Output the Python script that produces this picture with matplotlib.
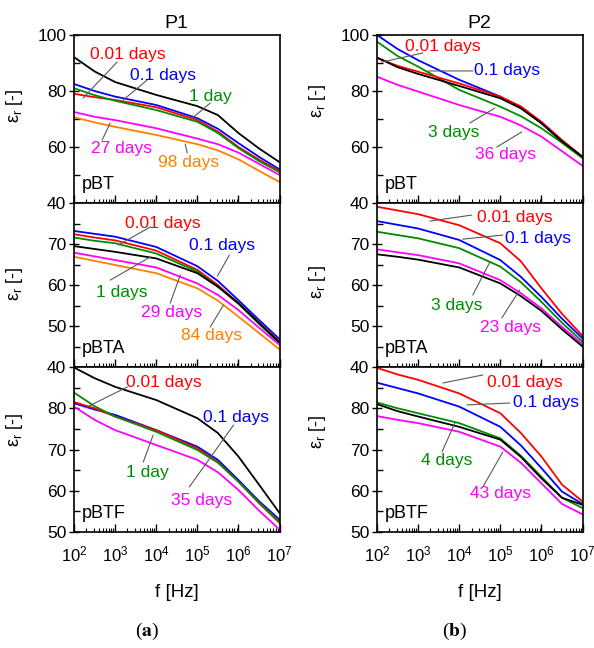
import numpy as np
import matplotlib
matplotlib.use("Agg")
import matplotlib.pyplot as plt
from matplotlib.ticker import FixedLocator, NullFormatter, LogLocator

plt.rcParams['font.family'] = ['Liberation Sans', 'DejaVu Sans']

# frequency points (log10 f)
freq_exp = [2, 2.5, 3, 4, 5, 5.5, 6, 6.5, 7]
freq = [10 ** e for e in freq_exp]

# eps_r, one dict per panel, keyed by line colour
p1_pBT = {
    'black':   [92.1, 87.0, 83.2, 78.6, 74.6, 71.4, 65.0, 59.5, 54.6],
    'blue':    [82.5, 80.0, 78.0, 75.0, 70.3, 66.5, 61.4, 56.5, 52.0],
    'red':     [79.0, 77.8, 76.8, 74.2, 69.6, 65.5, 60.0, 55.5, 51.4],
    'green':   [81.0, 78.5, 76.5, 73.2, 69.0, 65.0, 59.6, 55.0, 51.0],
    'magenta': [72.5, 70.8, 69.6, 66.7, 63.0, 61.0, 58.0, 54.0, 50.0],
    'orange':  [70.6, 68.8, 67.2, 64.3, 61.0, 58.8, 55.6, 51.5, 47.5],
}
p1_pBTA = {
    'blue':    [73.2, 72.5, 71.8, 69.3, 64.6, 61.0, 56.3, 51.5, 46.8],
    'red':     [72.4, 71.6, 70.9, 68.4, 63.7, 60.0, 55.6, 50.8, 46.2],
    'green':   [71.6, 70.8, 70.2, 67.7, 63.3, 59.6, 55.4, 50.5, 45.8],
    'black':   [69.5, 68.8, 68.1, 66.5, 62.9, 59.6, 55.6, 50.8, 46.0],
    'magenta': [67.9, 67.0, 66.1, 64.3, 60.4, 57.6, 53.9, 49.6, 45.4],
    'orange':  [66.9, 65.9, 64.9, 62.9, 59.2, 56.2, 52.3, 48.3, 44.3],
}
p1_pBTF = {
    'black':   [89.9, 87.3, 85.2, 82.0, 77.6, 74.0, 68.3, 61.5, 54.6],
    'blue':    [81.2, 79.7, 78.4, 74.7, 70.7, 67.5, 62.6, 57.5, 53.0],
    'red':     [81.5, 80.0, 78.0, 74.7, 70.3, 67.0, 62.2, 57.0, 52.2],
    'green':   [83.8, 80.5, 78.0, 74.3, 69.9, 66.8, 62.2, 57.2, 52.5],
    'magenta': [80.4, 77.2, 74.7, 71.1, 67.5, 64.5, 60.2, 55.2, 50.6],
}
p2_pBT = {
    'blue':    [100.0, 95.0, 91.0, 84.0, 78.0, 74.0, 68.5, 62.0, 56.5],
    'green':   [97.6, 92.5, 88.7, 80.4, 74.4, 71.0, 66.7, 61.5, 56.0],
    'red':     [91.7, 89.0, 86.9, 82.7, 78.0, 74.5, 69.0, 62.5, 56.5],
    'black':   [92.0, 88.5, 86.1, 81.8, 77.4, 73.8, 68.5, 62.0, 56.5],
    'magenta': [85.1, 82.2, 79.8, 75.0, 70.8, 67.7, 63.7, 58.5, 53.3],
}
p2_pBTA = {
    'red':     [79.1, 78.2, 77.3, 74.6, 70.2, 65.8, 59.2, 53.0, 47.6],
    'blue':    [75.6, 74.7, 73.8, 71.0, 66.1, 62.0, 57.1, 51.8, 47.0],
    'green':   [73.0, 72.2, 71.4, 69.0, 64.5, 60.7, 55.9, 50.8, 46.2],
    'magenta': [68.7, 68.0, 67.3, 65.3, 61.2, 58.0, 54.3, 49.8, 45.6],
    'black':   [67.5, 66.9, 66.2, 64.3, 60.4, 57.3, 53.7, 49.2, 45.0],
}
p2_pBTF = {
    'red':     [89.8, 88.2, 86.9, 83.6, 78.8, 74.0, 68.3, 61.5, 57.4],
    'blue':    [86.2, 84.9, 83.6, 80.4, 75.5, 71.0, 65.5, 59.8, 56.8],
    'green':   [81.4, 80.0, 78.8, 76.4, 72.7, 68.5, 63.4, 58.3, 55.8],
    'black':   [81.0, 79.3, 78.0, 75.5, 72.4, 68.2, 63.0, 58.3, 56.6],
    'magenta': [78.1, 77.2, 76.4, 74.3, 70.7, 66.8, 61.8, 56.8, 54.3],
}

colors = {'black': 'black', 'blue': '#0000ff', 'red': '#ff0000',
          'green': '#008c00', 'magenta': '#ff00ff', 'orange': '#ff8000'}

# labels: (text, colour, text pos, leader start, leader end) in axes fraction
lab_p1_pBT = [
    ('0.01 days', 'red', (0.261, 0.881), (0.210, 0.839), (0.044, 0.625)),
    ('0.1 days', 'blue', (0.434, 0.756), (0.356, 0.732), (0.239, 0.613)),
    ('1 day', 'green', (0.663, 0.631), (0.663, 0.595), (0.576, 0.506)),
    ('27 days', 'magenta', (0.232, 0.327), (0.176, 0.476), (0.137, 0.375)),
    ('98 days', 'orange', (0.559, 0.244), (0.541, 0.351), (0.551, 0.298)),
]
lab_p1_pBTA = [
    ('0.01 days', 'red', (0.434, 0.878), (0.371, 0.854), (0.215, 0.744)),
    ('0.1 days', 'blue', (0.722, 0.744), (0.756, 0.683), (0.698, 0.555)),
    ('1 days', 'green', (0.232, 0.457), (0.176, 0.530), (0.371, 0.671)),
    ('29 days', 'magenta', (0.476, 0.335), (0.468, 0.390), (0.517, 0.561)),
    ('84 days', 'orange', (0.671, 0.195), (0.663, 0.244), (0.727, 0.378)),
]
lab_p1_pBTF = [
    ('0.01 days', 'red', (0.439, 0.909), (0.259, 0.879), (0.054, 0.752)),
    ('0.1 days', 'blue', (0.790, 0.697), (0.776, 0.648), (0.561, 0.273)),
    ('1 day', 'green', (0.356, 0.358), (0.337, 0.424), (0.385, 0.588)),
    ('35 days', 'magenta', (0.622, 0.194), None, None),
]
lab_p2_pBT = [
    ('0.01 days', 'red', (0.320, 0.929), (0.223, 0.893), (0.024, 0.839)),
    ('0.1 days', 'blue', (0.633, 0.786), (0.466, 0.786), (0.248, 0.786)),
    ('3 days', 'green', (0.371, 0.417), (0.451, 0.476), (0.573, 0.565)),
    ('36 days', 'magenta', (0.624, 0.286), (0.583, 0.333), (0.704, 0.423)),
]
lab_p2_pBTA = [
    ('0.01 days', 'red', (0.670, 0.915), (0.461, 0.927), (0.257, 0.890)),
    ('0.1 days', 'blue', (0.782, 0.787), (0.612, 0.805), (0.417, 0.780)),
    ('3 days', 'green', (0.386, 0.378), (0.466, 0.439), (0.549, 0.640)),
    ('23 days', 'magenta', (0.650, 0.244), (0.607, 0.299), (0.694, 0.470)),
]
lab_p2_pBTF = [
    ('0.01 days', 'red', (0.718, 0.909), (0.515, 0.952), (0.320, 0.903)),
    ('0.1 days', 'blue', (0.820, 0.788), (0.646, 0.782), (0.437, 0.770)),
    ('4 days', 'green', (0.337, 0.436), (0.316, 0.485), (0.379, 0.661)),
    ('43 days', 'magenta', (0.600, 0.236), (0.515, 0.273), (0.612, 0.485)),
]

# per row: sample name, ylim, major ticks, minor ticks
rows = [
    ('pBT', (40, 100), [40, 60, 80, 100], [50, 70, 90]),
    ('pBTA', (40, 80), [40, 50, 60, 70], [45, 55, 65, 75]),
    ('pBTF', (50, 90), [50, 60, 70, 80], [55, 65, 75, 85]),
]
panels = [
    [p1_pBT, p1_pBTA, p1_pBTF],
    [p2_pBT, p2_pBTA, p2_pBTF],
]
labels = [
    [lab_p1_pBT, lab_p1_pBTA, lab_p1_pBTF],
    [lab_p2_pBT, lab_p2_pBTA, lab_p2_pBTF],
]
ylab_y = [[0.58, 0.51, 0.62], [0.61, 0.52, 0.61]]

fig = plt.figure(figsize=(5.94, 6.48), dpi=100)

lefts = [0.1246, 0.6347]
width = 0.346
bottoms = [0.6867, 0.4336, 0.179]
heights = [0.2593, 0.253, 0.2546]

for col in range(2):
    for r in range(3):
        name, ylim, major, minor = rows[r]
        ax = fig.add_axes([lefts[col], bottoms[r], width, heights[r]])
        data = panels[col][r]
        for key, vals in data.items():
            ax.plot(freq, vals, color=colors[key], lw=1.3)
        ax.set_xscale('log')
        ax.set_xlim(1e2, 1e7)
        ax.set_ylim(*ylim)
        ax.yaxis.set_major_locator(FixedLocator(major))
        ax.yaxis.set_minor_locator(FixedLocator(minor))
        ax.xaxis.set_major_locator(LogLocator(base=10, numticks=10))
        ax.xaxis.set_minor_locator(LogLocator(base=10, subs=np.arange(2, 10), numticks=20))
        ax.xaxis.set_minor_formatter(NullFormatter())
        ax.tick_params(axis='y', which='major', direction='inout', length=7, width=1, labelsize=12.5, pad=2)
        ax.tick_params(axis='y', which='minor', direction='in', length=4, width=1)
        ax.tick_params(axis='x', which='major', direction='in', length=6, width=1, labelsize=12, pad=9)
        ax.tick_params(axis='x', which='minor', direction='in', length=3, width=0.8)
        if r < 2:
            ax.tick_params(axis='x', labelbottom=False)
        for sp in ax.spines.values():
            sp.set_linewidth(1.2)

        ax.set_ylabel('ε$_\\mathregular{r}$ [-]', fontsize=13)
        ax.yaxis.set_label_coords(-0.24, ylab_y[col][r])

        ax.text(0.04, 0.11, name, transform=ax.transAxes, fontsize=13,
                ha='left', va='center')

        for txt, c, pos, p0, p1 in labels[col][r]:
            if p0 is not None:
                ax.annotate('', xy=p1, xytext=p0, xycoords='axes fraction',
                            textcoords='axes fraction',
                            arrowprops=dict(arrowstyle='-', color='0.35', lw=0.8,
                                            shrinkA=0, shrinkB=0))
            ax.text(pos[0], pos[1], txt, transform=ax.transAxes, color=colors[c],
                    fontsize=12.5, ha='center', va='center')

        if r == 0:
            ax.set_title('P%d' % (col + 1), fontsize=14, pad=5)
        if r == 2:
            ax.set_xlabel('f [Hz]', fontsize=13.5, labelpad=14)

fig.text(0.2475, 0.025, r'($\mathbf{a}$)', fontsize=14, ha='center', va='center',
         family='Liberation Serif', math_fontfamily='stix')
fig.text(0.766, 0.025, r'($\mathbf{b}$)', fontsize=14, ha='center', va='center',
         family='Liberation Serif', math_fontfamily='stix')

fig.savefig('out.png', dpi=100)
